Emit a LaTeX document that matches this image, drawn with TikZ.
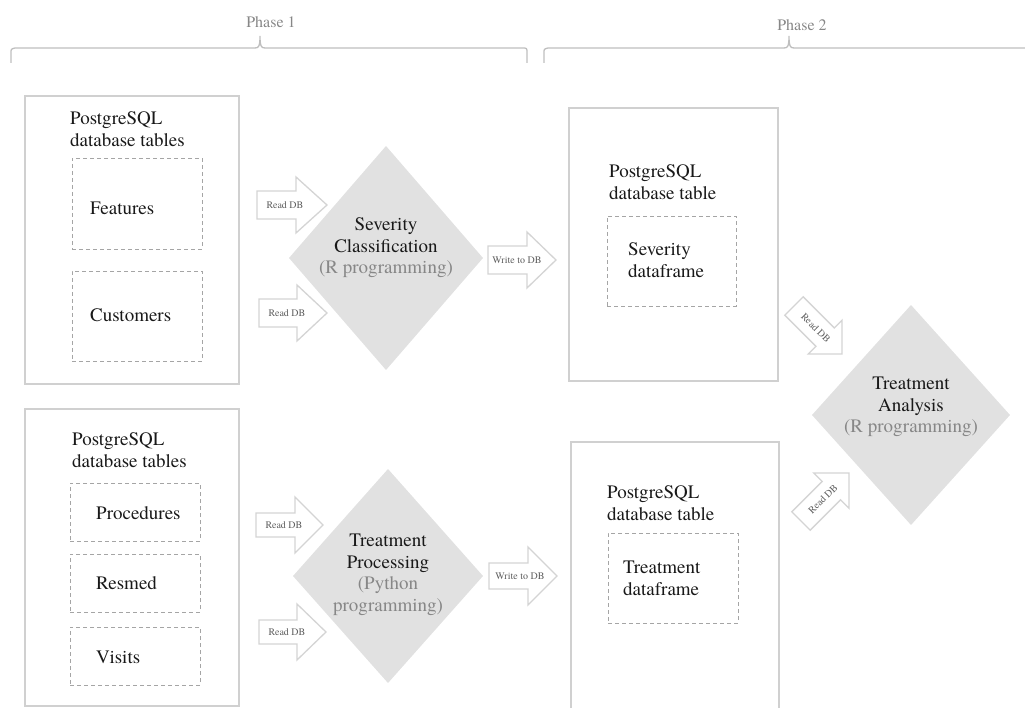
\documentclass[tikz,border=0pt]{standalone}
\usepackage{fontspec}
\setmainfont{TeX Gyre Termes}
\usetikzlibrary{fit}

\definecolor{boxline}{RGB}{208,208,208}
\definecolor{dashline}{RGB}{165,165,165}
\definecolor{diamondfill}{RGB}{225,225,225}
\definecolor{arrowline}{RGB}{212,212,212}
\definecolor{arrowtxt}{RGB}{95,95,95}
\definecolor{phasetxt}{RGB}{135,135,135}
\definecolor{braceline}{RGB}{190,190,190}
\definecolor{maintxt}{RGB}{25,25,25}
\definecolor{subtxt}{RGB}{135,135,135}

\tikzset{
  outerbox/.style={draw=boxline, line width=1.5pt, inner sep=0pt},
  tablebox/.style={draw=dashline, line width=0.9pt, dash pattern=on 4pt off 3pt, inner sep=0pt},
  labeltext/.style={font=\fontsize{19}{22}\selectfont, text=maintxt, inner sep=0pt, align=left, anchor=west},
  steptext/.style={font=\fontsize{19}{21.5}\selectfont, text=maintxt, inner sep=0pt, align=center},
  diamondshape/.style={fill=diamondfill, draw=none},
  blockline/.style={draw=arrowline, fill=white, line width=1.3pt, line join=miter},
  blocktext/.style={font=\fontsize{10}{12}\selectfont, text=arrowtxt, inner sep=0pt},
  bracepath/.style={draw=braceline, line width=1.3pt},
  phasetext/.style={font=\fontsize{16}{18}\selectfont, text=phasetxt, inner sep=0pt},
}

% block arrow: #1 name, #2 tail centre, #3 angle, #4 length,
% #5 shaft half width, #6 head half width, #7 head length, #8 text, #9 text offset
\newcommand{\blockarrow}[9]{%
  \begin{scope}[shift={(#2)}, rotate=#3]
    \draw[blockline] (0,-#5) -- ({#4-#7},-#5) -- ({#4-#7},-#6) -- (#4,0)
      -- ({#4-#7},#6) -- ({#4-#7},#5) -- (0,#5) -- cycle;
    \node[blocktext, transform shape] (#1) at (#9,0) {#8};
  \end{scope}}

% diamond step: #1 name, #2 centre, #3 half width, #4 half height
\newcommand{\stepdiamond}[4]{%
  \begin{scope}[shift={(#2)}]
    \fill[diamondshape] (-#3,0) -- (0,-#4) -- (#3,0) -- (0,#4) -- cycle;
    \coordinate (#1) at (0,0);
  \end{scope}}

\begin{document}
\begin{tikzpicture}[x=1pt, y=-1pt]
\useasboundingbox (0,0) rectangle (1025,708);

% phase braces
\draw[bracepath] (11,63) -- (11,53) .. controls (11,49) .. (15,48) -- (255,48)
  .. controls (259,48) and (260,46) .. (260,36)
  .. controls (260,46) and (261,48) .. (265,48) -- (522,48)
  .. controls (527,48) .. (527,53) -- (527,63);
\node[phasetext] (ph1) at (271,22) {Phase 1};
\draw[bracepath] (544,63) -- (544,53) .. controls (544,49) .. (548,48) -- (784,48)
  .. controls (788,48) and (789,46) .. (789,36)
  .. controls (789,46) and (790,48) .. (794,48) -- (1035,48);
\node[phasetext] (ph2) at (802,25) {Phase 2};

% source tables
\node[outerbox, fit={(25,96) (239,384)}] (srcA) {};
\node[labeltext] (srcAlbl) at (70,129) {PostgreSQL\\database tables};
\node[tablebox, fit={(72,158) (202,249)}] (feat) {};
\node[labeltext] at (90,208) {Features};
\node[tablebox, fit={(72,271) (202,361)}] (cust) {};
\node[labeltext] at (90,315) {Customers};

\node[outerbox, fit={(25,409) (239,706)}] (srcB) {};
\node[labeltext] (srcBlbl) at (72,450) {PostgreSQL\\database tables};
\node[tablebox, fit={(70,483) (200,541)}] (proc) {};
\node[labeltext] at (96,513) {Procedures};
\node[tablebox, fit={(70,554) (200,612)}] (resm) {};
\node[labeltext] at (96,583) {Resmed};
\node[tablebox, fit={(70,627) (200,685)}] (visi) {};
\node[labeltext] at (96,657) {Visits};

% result tables
\node[outerbox, fit={(569,108) (778,381)}] (resA) {};
\node[labeltext] (resAlbl) at (609,182) {PostgreSQL\\database table};
\node[tablebox, fit={(607,216) (736,306)}] (sevdf) {};
\node[labeltext] at (628,260) {Severity\\dataframe};

\node[outerbox, fit={(571,442) (779,740)}] (resB) {};
\node[labeltext] (resBlbl) at (607,503) {PostgreSQL\\database table};
\node[tablebox, fit={(608,533) (738,623)}] (trtdf) {};
\node[labeltext] at (623,578) {Treatment\\dataframe};

% processing steps
\stepdiamond{sevc}{386,258}{97}{112}
\node[steptext] (sevtxt) at (386,248) {Severity\\Classification\\\textcolor{subtxt}{(R programming)}};
\stepdiamond{trtp}{388,576}{95}{107}
\node[steptext] (trptxt) at (388,575) {Treatment\\Processing\\\textcolor{subtxt}{(Python}\\\textcolor{subtxt}{programming)}};
\stepdiamond{trta}{911,415}{99}{110}
\node[steptext] (tratxt) at (911,407) {Treatment\\Analysis\\\textcolor{subtxt}{(R programming)}};

% data flow arrows
\blockarrow{rd1}{257,205}{0}{70}{14}{28}{31}{Read DB}{28}
\blockarrow{rd2}{259,313}{0}{68}{14}{28}{30}{Read DB}{28}
\blockarrow{wr1}{488,260}{0}{68}{14}{28}{29}{Write to DB}{29}
\blockarrow{rd3}{256,525}{0}{67}{12}{28}{28}{Read DB}{28}
\blockarrow{rd4}{259,632}{0}{67}{12}{28}{29}{Read DB}{28}
\blockarrow{wr2}{489,576}{0}{68}{13}{29}{29}{Write to DB}{31}
\blockarrow{rd5}{794,306}{-45}{68}{13}{24}{24}{Read DB}{31}
\blockarrow{rd6}{801,521}{45}{68}{13}{25}{25}{Read DB}{31}
\end{tikzpicture}
\end{document}
